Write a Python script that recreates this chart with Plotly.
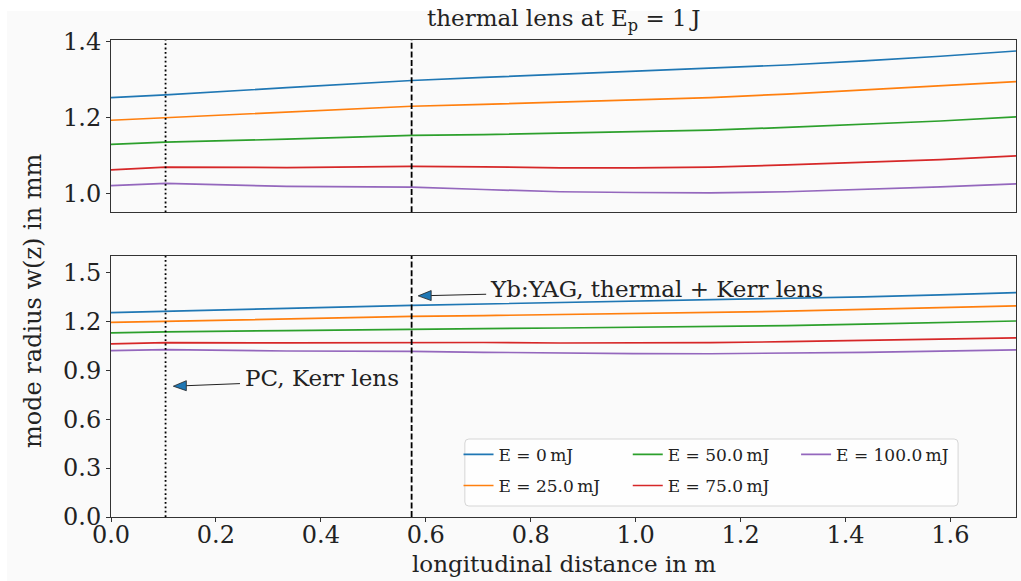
import plotly.graph_objects as go

# ---------------- data ----------------
z_m = [0.0, 0.104, 0.335, 0.573, 0.710, 0.856, 0.996, 1.142, 1.288, 1.435, 1.581, 1.725]

series_labels = ["E = 0\u2009mJ", "E = 25.0\u2009mJ", "E = 50.0\u2009mJ",
                 "E = 75.0\u2009mJ", "E = 100.0\u2009mJ"]
w_E0 = [1.253, 1.260, 1.279, 1.298, 1.306, 1.314, 1.322, 1.329, 1.339, 1.350, 1.362, 1.376]
w_E25 = [1.193, 1.200, 1.215, 1.230, 1.235, 1.241, 1.247, 1.253, 1.262, 1.273, 1.283, 1.295]
w_E50 = [1.129, 1.135, 1.143, 1.153, 1.155, 1.159, 1.163, 1.167, 1.174, 1.183, 1.191, 1.202]
w_E75 = [1.062, 1.069, 1.068, 1.071, 1.070, 1.067, 1.067, 1.069, 1.075, 1.082, 1.089, 1.099]
w_E100 = [1.020, 1.026, 1.018, 1.016, 1.010, 1.004, 1.002, 1.001, 1.004, 1.010, 1.017, 1.025]
series_values = [w_E0, w_E25, w_E50, w_E75, w_E100]

PC_POS = 0.104      # Pockels cell position (m)
YAG_POS = 0.573     # Yb:YAG crystal position (m)

x_ticks = [0.0, 0.2, 0.4, 0.6, 0.8, 1.0, 1.2, 1.4, 1.6]
y_ticks_top = [1.0, 1.2, 1.4]
y_ticks_bottom = [0.0, 0.3, 0.6, 0.9, 1.2, 1.5]

# ---------------- style ----------------
colors = ["#1f77b4", "#ff7f0e", "#2ca02c", "#d62728", "#9467bd"]
legend_of = ["legend", "legend", "legend2", "legend2", "legend3"]
FONT = "DejaVu Serif"
BG = "#fafafa"
X_RANGE = [0, 1.725]
Y2_RANGE = [0, 1.6]
W, H = 1021, 581
ML, MR, MT, MB = 111, 5, 40, 64
Y2_DOMAIN = [0, 0.547]

fig = go.Figure()
for i, (lab, vals) in enumerate(zip(series_labels, series_values)):
    fig.add_trace(go.Scatter(x=z_m, y=vals, mode="lines", xaxis="x", yaxis="y",
                             line=dict(color=colors[i], width=1.7), showlegend=False,
                             hoverinfo="skip"))
    fig.add_trace(go.Scatter(x=z_m, y=vals, mode="lines", xaxis="x2", yaxis="y2",
                             name=lab, legend=legend_of[i], legendgroup=lab,
                             line=dict(color=colors[i], width=1.7)))

axis_common = dict(showline=True, linecolor="#333333", linewidth=1, mirror=True,
                   showgrid=False, zeroline=False, ticks="outside", ticklen=4,
                   tickcolor="#333333", tickfont=dict(family=FONT, size=24, color="#222"))

fig.update_layout(
    width=W, height=H,
    margin=dict(l=ML, r=MR, t=MT, b=MB),
    paper_bgcolor="white", plot_bgcolor=BG,
    font=dict(family=FONT, color="#222"),
    xaxis=dict(axis_common, domain=[0, 1], anchor="y", range=X_RANGE,
               showticklabels=False, ticks="", matches="x2"),
    yaxis=dict(axis_common, domain=[0.639, 1], anchor="x", range=[0.95, 1.405],
               tickvals=y_ticks_top, tickformat=".1f"),
    xaxis2=dict(axis_common, domain=[0, 1], anchor="y2", range=X_RANGE,
                tickvals=x_ticks, tickformat=".1f", ticklabelstandoff=-8),
    yaxis2=dict(axis_common, domain=Y2_DOMAIN, anchor="x2", range=Y2_RANGE,
                tickvals=y_ticks_bottom, tickformat=".1f"),
    showlegend=True,
)

leg_common = dict(y=0.168, xanchor="left", yanchor="top", bgcolor="rgba(0,0,0,0)",
                  font=dict(family=FONT, size=17, color="#222"), tracegroupgap=6,
                  itemwidth=30)
fig.update_layout(legend=dict(leg_common, x=0.384),
                  legend2=dict(leg_common, x=0.571),
                  legend3=dict(leg_common, x=0.757))

# background of the figure area (reference has a thin white margin top/left)
fig.add_shape(type="rect", xref="paper", yref="paper", x0=-0.1149, x1=1.02,
              y0=-0.2, y1=1.0608, fillcolor=BG, line=dict(width=0), layer="below")

# legend frame with rounded corners
lx0, lx1, ly0, ly1 = 0.391, 0.936, 0.023, 0.1635
rx, ry = 4 / 905, 4 / 477
path = (f"M{lx0+rx},{ly0} L{lx1-rx},{ly0} Q{lx1},{ly0} {lx1},{ly0+ry} "
        f"L{lx1},{ly1-ry} Q{lx1},{ly1} {lx1-rx},{ly1} L{lx0+rx},{ly1} "
        f"Q{lx0},{ly1} {lx0},{ly1-ry} L{lx0},{ly0+ry} Q{lx0},{ly0} {lx0+rx},{ly0} Z")
fig.add_shape(type="path", xref="paper", yref="paper", path=path,
              fillcolor="rgba(255,255,255,0.8)", line=dict(color="#d6d6d6", width=1),
              layer="above")

# element position markers
for yref in ["y domain", "y2 domain"]:
    xr = "x" if yref.startswith("y ") else "x2"
    fig.add_shape(type="line", xref=xr, yref=yref, x0=PC_POS, x1=PC_POS, y0=0, y1=1,
                  line=dict(color="black", width=1.8, dash="1.8px,2.6px"))
    fig.add_shape(type="line", xref=xr, yref=yref, x0=YAG_POS, x1=YAG_POS, y0=0, y1=1,
                  line=dict(color="black", width=1.8, dash="6px,2.6px"))

# annotation arrows (matplotlib-style "-|>": black shaft, blue filled head)
px_per_x = (W - ML - MR) / (X_RANGE[1] - X_RANGE[0])
px_per_y = (H - MT - MB) * (Y2_DOMAIN[1] - Y2_DOMAIN[0]) / (Y2_RANGE[1] - Y2_RANGE[0])
head_len = 13 / px_per_x
head_half = 5 / px_per_y
arrows = [
    # tip_x, tip_y, tail_x, tail_y, text_x, text_y, text
    (0.5855, 1.356, 0.7151, 1.366, 0.719, 1.397, "Yb:YAG, thermal + Kerr lens"),
    (0.1188, 0.802, 0.2458, 0.818, 0.252, 0.855, "PC, Kerr lens"),
]
for tx, ty, ax_, ay_, txx, txy, txt in arrows:
    slope = (ay_ - ty) / (ax_ - tx)
    bx, by = tx + head_len, ty + slope * head_len
    fig.add_shape(type="line", xref="x2", yref="y2", x0=bx, y0=by, x1=ax_, y1=ay_,
                  line=dict(color="#222", width=1))
    fig.add_shape(type="path", xref="x2", yref="y2",
                  path=f"M{tx},{ty} L{bx},{by + head_half} L{bx},{by - head_half} Z",
                  fillcolor="#1f77b4", line=dict(color="#222", width=0.8))
    fig.add_annotation(x=txx, y=txy, xref="x2", yref="y2", text=txt, showarrow=False,
                       xanchor="left", yanchor="middle",
                       font=dict(family=FONT, size=23, color="#222"))

# title and axis titles
fig.add_annotation(x=0.5, y=1.042, xref="paper", yref="paper",
                   text="thermal lens at E<sub>p</sub> = 1\u2009J", showarrow=False,
                   xanchor="center", yanchor="middle",
                   font=dict(family=FONT, size=23, color="#222"))
fig.add_annotation(x=0.5, y=-0.0985, xref="paper", yref="paper",
                   text="longitudinal distance in m", showarrow=False,
                   xanchor="center", yanchor="middle",
                   font=dict(family=FONT, size=23, color="#222"))
fig.add_annotation(x=-0.086, y=0.453, xref="paper", yref="paper",
                   text="mode radius w(z) in mm", showarrow=False, textangle=-90,
                   xanchor="center", yanchor="middle",
                   font=dict(family=FONT, size=24, color="#222"))

fig.write_html("out.html", config={"displayModeBar": False},
               post_script="document.body.style.margin='0';"
                           "document.body.style.padding='0';"
                           "document.body.style.overflow='hidden';")
